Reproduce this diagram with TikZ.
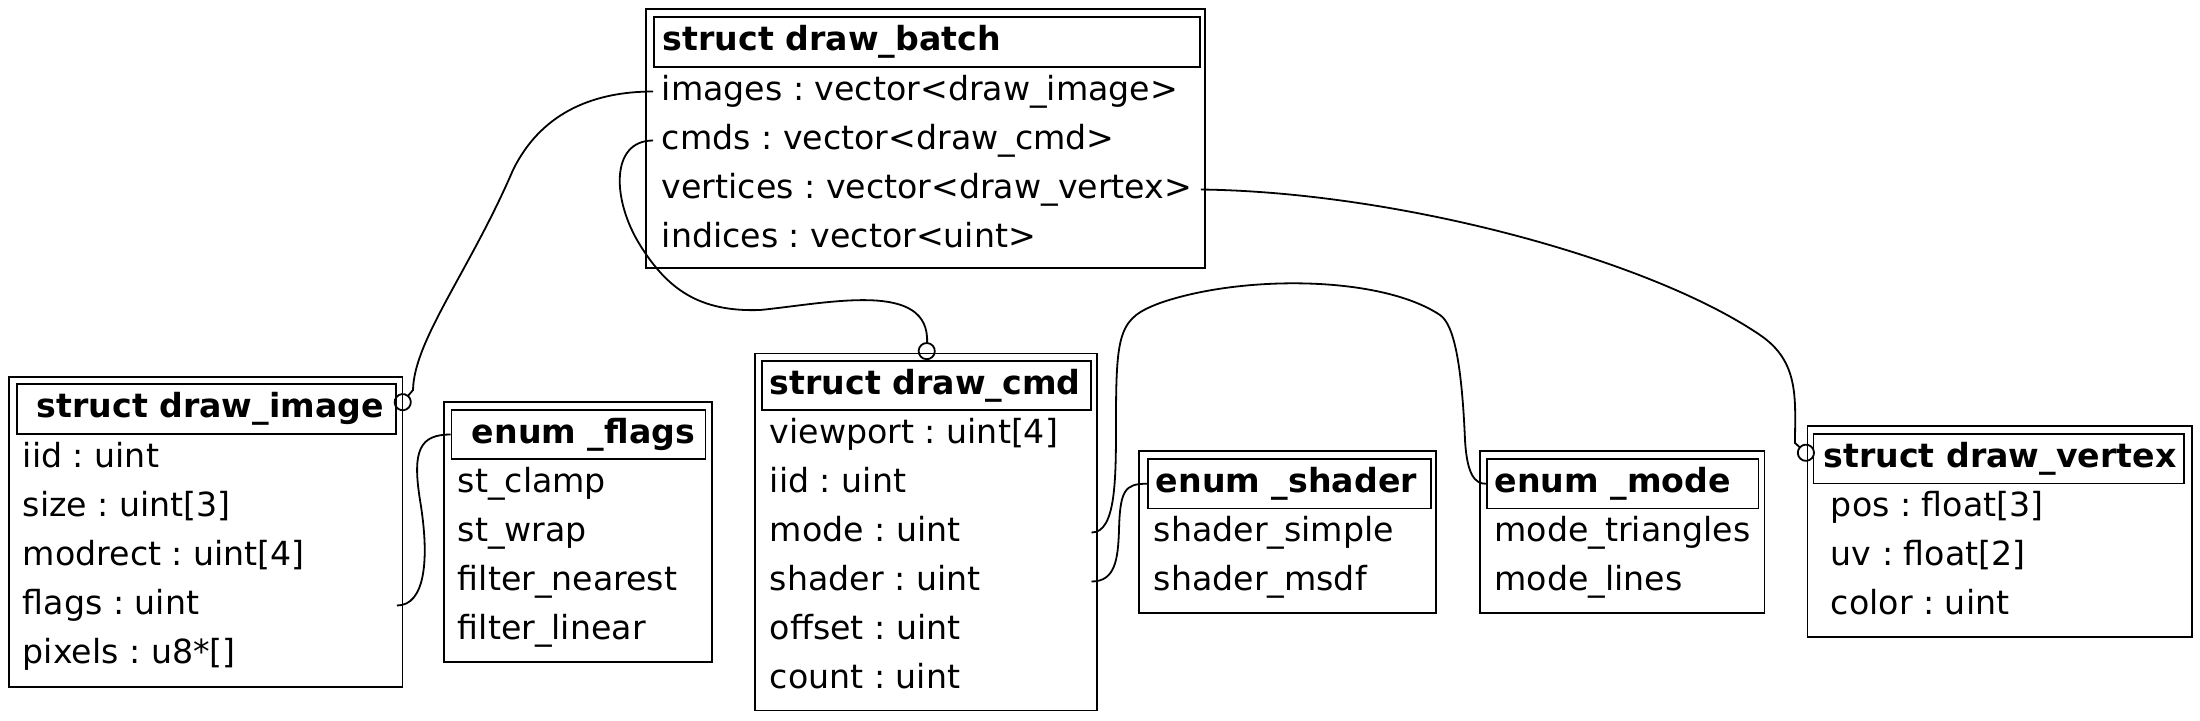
\documentclass[tikz,border=0pt]{standalone}
\usepackage{fontspec}
\setmainfont{DejaVu Sans}
\usepackage{tikz}
\usetikzlibrary{arrows.meta}
\newcommand{\recfont}{\frenchspacing\fontsize{16.6}{20}\selectfont}

\begin{document}
\begin{tikzpicture}[x=0.5pt, y=-0.5pt, line width=0.9pt,
    every node/.style={font=\recfont},
    recbox/.style={draw, inner sep=0pt},
    rechead/.style={draw, inner sep=0pt},
    rectitle/.style={anchor=west, inner sep=0pt, text height=12.7pt, text depth=4pt, font=\recfont\bfseries},
    recfield/.style={anchor=west, inner sep=0pt, text height=12.7pt, text depth=4pt},
    link/.style={line width=0.9pt},
    ownlink/.style={link, -{Circle[open, length=9pt, width=9pt]}}]
    \useasboundingbox (0,0) rectangle (2200,720);

    % struct draw_batch
    \node[recbox, minimum width=279.5pt, minimum height=129.5pt] (batch) at (925.5,138.5) {};
    \node[rechead, minimum width=273pt, minimum height=25pt] (batch_h) at (927,42) {};
    \node[rectitle] (batch_t) at (662,42) {struct draw\_batch};
    \node[recfield] (b_images) at (661,91.5) {images : vector<draw\_image>};
    \node[recfield] (b_cmds) at (661,140.5) {cmds : vector<draw\_cmd>};
    \node[recfield] (b_vertices) at (661,189.5) {vertices : vector<draw\_vertex>};
    \node[recfield] (b_indices) at (661,238.5) {indices : vector<uint>};

    % struct draw_image
    \node[recbox, minimum width=196.75pt, minimum height=155pt] (img) at (205.75,532) {};
    \node[rechead, minimum width=189.5pt, minimum height=25pt] (img_h) at (206.5,409) {};
    \node[rectitle] (img_t) at (35.8,409) {struct draw\_image};
    \node[recfield] (i_iid) at (22,458.5) {iid : uint};
    \node[recfield] (i_size) at (22,507.5) {size : uint[3]};
    \node[recfield] (i_modrect) at (22,556.5) {modrect : uint[4]};
    \node[recfield] (i_flags) at (22,605.5) {flags : uint};
    \node[recfield] (i_pixels) at (22,654.5) {pixels : u8*[]};

    % enum _flags
    \node[recbox, minimum width=134pt, minimum height=130pt] (flg) at (578,532) {};
    \node[rechead, minimum width=127pt, minimum height=24.5pt] (flg_h) at (578.5,434.5) {};
    \node[rectitle] (flg_t) at (471,434.5) {enum \_flags};
    \node[recfield] (f_clamp) at (457,483.5) {st\_clamp};
    \node[recfield] (f_wrap) at (457,532.5) {st\_wrap};
    \node[recfield] (f_nearest) at (457,581.5) {filter\_nearest};
    \node[recfield] (f_linear) at (457,630.5) {filter\_linear};

    % struct draw_cmd
    \node[recbox, minimum width=171pt, minimum height=178.5pt] (cmd) at (925.65,532) {};
    \node[rechead, minimum width=164.3pt, minimum height=24.5pt] (cmd_h) at (926.3,385.5) {};
    \node[rectitle] (cmd_t) at (769,385.5) {struct draw\_cmd};
    \node[recfield] (c_viewport) at (769,434.5) {viewport : uint[4]};
    \node[recfield] (c_iid) at (769,483.5) {iid : uint};
    \node[recfield] (c_mode) at (769,532.5) {mode : uint};
    \node[recfield] (c_shader) at (769,581.5) {shader : uint};
    \node[recfield] (c_offset) at (769,630.5) {offset : uint};
    \node[recfield] (c_count) at (769,679.5) {count : uint};

    % enum _shader
    \node[recbox, minimum width=148.5pt, minimum height=80.75pt] (shd) at (1287.75,532) {};
    \node[rechead, minimum width=141.6pt, minimum height=24.75pt] (shd_h) at (1289.3,483.75) {};
    \node[rectitle] (shd_t) at (1155,483.75) {enum \_shader};
    \node[recfield] (s_simple) at (1153,533) {shader\_simple};
    \node[recfield] (s_msdf) at (1153,582) {shader\_msdf};

    % enum _mode
    \node[recbox, minimum width=142.35pt, minimum height=80.75pt] (mod) at (1622.15,532) {};
    \node[rechead, minimum width=135.85pt, minimum height=24.75pt] (mod_h) at (1622.55,483.75) {};
    \node[rectitle] (mod_t) at (1493.6,483.75) {enum \_mode};
    \node[recfield] (m_triangles) at (1493.6,533) {mode\_triangles};
    \node[recfield] (m_lines) at (1493.6,582) {mode\_lines};

    % struct draw_vertex
    \node[recbox, minimum width=192.1pt, minimum height=105.5pt] (vtx) at (1999.5,531.5) {};
    \node[rechead, minimum width=185.25pt, minimum height=24.75pt] (vtx_h) at (1998.75,458.75) {};
    \node[rectitle] (vtx_t) at (1822.7,458.75) {struct draw\_vertex};
    \node[recfield] (v_pos) at (1830,508) {pos : float[3]};
    \node[recfield] (v_uv) at (1830,557) {uv : float[2]};
    \node[recfield] (v_color) at (1830,606) {color : uint};

    % links
    \draw[ownlink] (b_images -| batch_h.west) .. controls (590,91.5) and (540,115) .. (513,170)
      .. controls (470,270) and (414,340) .. (413,390) -- (img_h.east);
    \draw[ownlink] (b_cmds -| batch_h.west) .. controls (610,140.5) and (612,200) .. (640,245)
      .. controls (668,290) and (700,312) .. (760,310)
      .. controls (830,303) and (930,280) .. (cmd_h.north);
    \draw[ownlink] (b_vertices -| batch_h.east) .. controls (1400,192) and (1650,260) .. (1760,335)
      .. controls (1800,362) and (1795,400) .. (1795,443) -- (vtx_h.west);
    \draw[link] (i_flags -| img_h.east) .. controls (425,605.5) and (430,560) .. (420,500)
      .. controls (412,450) and (420,434.5) .. (flg_h.west);
    \draw[link] (c_mode -| cmd_h.east) .. controls (1116,532.5) and (1116,480) .. (1116,420)
      .. controls (1116,330) and (1120,318) .. (1160,303)
      .. controls (1240,275) and (1380,275) .. (1440,315)
      .. controls (1455,325) and (1462,370) .. (1465,440)
      .. controls (1467,475) and (1475,483.75) .. (mod_h.west);
    \draw[link] (c_shader -| cmd_h.east) .. controls (1115,581.5) and (1118,560) .. (1119,530)
      .. controls (1120,490) and (1125,483.75) .. (shd_h.west);
\end{tikzpicture}
\end{document}
